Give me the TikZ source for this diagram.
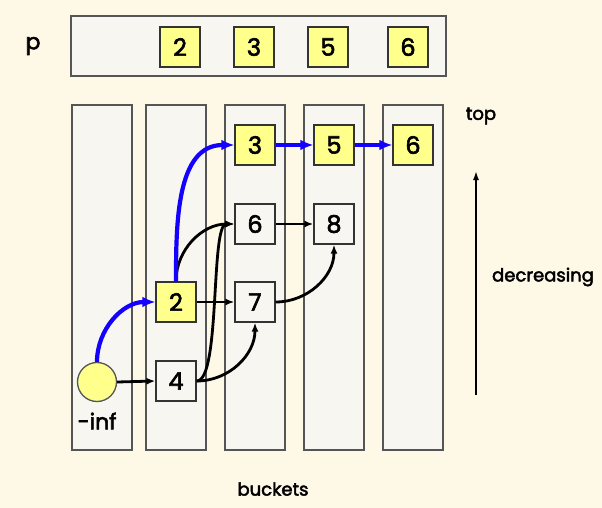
\documentclass[tikz,border=0pt]{standalone}
\usepackage{fontspec}
\setmainfont{Poppins}[BoldFont={Poppins}, BoldFeatures={FakeBold=2.5}]
\usetikzlibrary{arrows.meta}
\definecolor{paper}{RGB}{254,248,231}
\definecolor{slot}{RGB}{248,246,240}
\definecolor{rim}{RGB}{85,85,85}
\definecolor{hot}{RGB}{255,255,140}
\definecolor{route}{RGB}{20,0,255}
\tikzset{
  bucket/.style={draw=rim, fill=slot, line width=1.3pt, minimum width=60pt, minimum height=345pt, inner sep=0pt},
  item/.style={draw=rim!60!black, fill=slot, line width=1.3pt, minimum size=40pt, inner sep=0pt, font=\fontsize{24}{28}\selectfont\bfseries},
  hotitem/.style={item, fill=hot},
  label/.style={font=\fontsize{18}{22}\selectfont\bfseries},
  link/.style={line width=2.8pt, -{Latex[length=9pt,width=7pt]}},
  route/.style={draw=route, line width=4.2pt, -{Latex[length=13pt,width=11pt]}}
}

\begin{document}
\begin{tikzpicture}[x=1pt, y=-1pt]
  \fill[paper] (0,0) rectangle (602,508);
  \useasboundingbox (0,0) rectangle (602,508);
  % the buckets
  \foreach \name/\cx in {col1/102, col2/176, col3/255, col4/334, col5/413}
    \node[bucket] (\name) at (\cx,277.5) {};
  % the array p
  \node[draw=rim, fill=slot, line width=1.3pt, minimum width=375pt, minimum height=60pt] (bar) at (258.5,46) {};
  \node[hotitem] (p2) at (180,47) {2};
  \node[hotitem] (p3) at (254,47) {3};
  \node[hotitem] (p5) at (328,47) {5};
  \node[hotitem] (p6) at (408,47) {6};
  \node[label, font=\fontsize{22}{26}\selectfont\bfseries] (plabel) at (33,46) {p};
  % items in the buckets
  \node[circle, draw=rim, fill=hot, line width=1.3pt, minimum size=39pt, inner sep=0pt] (ninf) at (97,382) {};
  \node[label, font=\fontsize{22}{26}\selectfont\bfseries] (inflabel) at (97,421) {-inf};
  \node[hotitem] (n2) at (176,302) {2};
  \node[item] (n4) at (176,381) {4};
  \node[hotitem] (n3) at (255,145) {3};
  \node[item] (n6) at (255,224) {6};
  \node[item] (n7) at (255,302) {7};
  \node[hotitem] (n5) at (334,145) {5};
  \node[item] (n8) at (334,224) {8};
  \node[hotitem] (m6) at (413,145) {6};
  % labels on the right and below
  \node[label] (toplabel) at (481,116) {top};
  \node[label] (declabel) at (543,277) {decreasing};
  \node[label] (buckets) at (273,489) {buckets};
  \coordinate (low) at (476,395);
  \coordinate (high) at (476,171);
  \draw[line width=1.6pt, -{Latex[length=9pt,width=6pt]}] (low) -- (high);
  % links
  \draw[link] (ninf.east) -- (n4.west);
  \draw[link] (n2.east) -- (n7.west);
  \draw[link] (n6.east) -- (n8.west);
  \draw[link] (n2.north) to[out=90, in=180] (n6.west);
  \draw[link] (n4.east) .. controls +(24,0) and +(-24,0) .. (n6.west);
  \draw[link] (n4.east) to[out=0, in=-90] (n7.south);
  \draw[link] (n7.east) to[out=0, in=-90] (n8.south);
  % the path of the minimum
  \draw[route] (ninf.north) to[out=90, in=180] (n2.west);
  \draw[route] (n2.north) to[out=90, in=180] (n3.west);
  \draw[route] (n3.east) -- (n5.west);
  \draw[route] (n5.east) -- (m6.west);
\end{tikzpicture}
\end{document}
